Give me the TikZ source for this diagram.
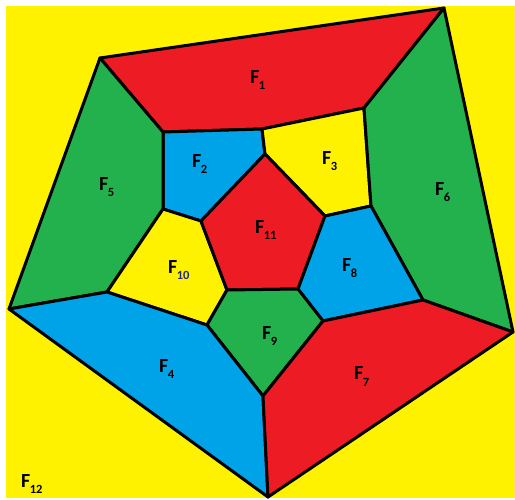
\documentclass[tikz,border=0pt]{standalone}
\usepackage{fontspec}
\setmainfont{Carlito}
\definecolor{pred}{HTML}{ED1C24}
\definecolor{pgreen}{HTML}{22B14C}
\definecolor{pblue}{HTML}{00A2E8}
\definecolor{pyellow}{HTML}{FFF200}
\definecolor{subnavy}{HTML}{1F2A8A}
\newcommand\flab[2][black]{F\kern-0.5pt\raisebox{-6pt}{\fontsize{12.5}{12.5}\selectfont\color{#1}#2}}
\begin{document}
\begin{tikzpicture}[x=1pt,y=-1pt,
  face/.style={draw=black,line width=3pt,line join=round},
  lab/.style={anchor=base west,inner sep=0pt,font=\fontsize{20}{20}\selectfont\bfseries}]
\useasboundingbox (0,0) rectangle (515,500);
\fill[white] (0,0) rectangle (515,500);
\fill[pyellow] (6,6) rectangle (515,498);
% outer vertices
\coordinate (A) at (100,58);
\coordinate (B) at (444,8);
\coordinate (C) at (513,332);
\coordinate (D) at (268,497);
\coordinate (E) at (9,309);
% middle ring
\coordinate (P1) at (163,132);
\coordinate (T) at (262,129);
\coordinate (P2) at (364,108);
\coordinate (Q6) at (371,206);
\coordinate (R6) at (423,300);
\coordinate (R7) at (323,321);
\coordinate (S) at (263,396);
\coordinate (R4) at (207,325);
\coordinate (Q4) at (107,292);
\coordinate (Q5) at (163,209);
% inner pentagon
\coordinate (K1) at (265,154);
\coordinate (K2) at (325,216);
\coordinate (K3) at (298,289);
\coordinate (K4) at (227,290);
\coordinate (K5) at (201,221);
% faces
\filldraw[face,fill=pred] (A) -- (B) -- (P2) -- (T) -- (P1) -- cycle;
\filldraw[face,fill=pblue] (P1) -- (T) -- (K1) -- (K5) -- (Q5) -- cycle;
\filldraw[face,fill=pyellow] (T) -- (P2) -- (Q6) -- (K2) -- (K1) -- cycle;
\filldraw[face,fill=pgreen] (A) -- (P1) -- (Q5) -- (Q4) -- (E) -- cycle;
\filldraw[face,fill=pgreen] (B) -- (C) -- (R6) -- (Q6) -- (P2) -- cycle;
\filldraw[face,fill=pyellow] (Q5) -- (K5) -- (K4) -- (R4) -- (Q4) -- cycle;
\filldraw[face,fill=pred] (K1) -- (K2) -- (K3) -- (K4) -- (K5) -- cycle;
\filldraw[face,fill=pblue] (K2) -- (Q6) -- (R6) -- (R7) -- (K3) -- cycle;
\filldraw[face,fill=pgreen] (K4) -- (K3) -- (R7) -- (S) -- (R4) -- cycle;
\filldraw[face,fill=pblue] (E) -- (Q4) -- (R4) -- (S) -- (D) -- cycle;
\filldraw[face,fill=pred] (D) -- (S) -- (R7) -- (R6) -- (C) -- cycle;
% labels
\node[lab] (l1) at (250,84) {\flab{1}};
\node[lab] (l2) at (192,168) {\flab{2}};
\node[lab] (l3) at (322,165) {\flab{3}};
\node[lab] (l4) at (159,373) {\flab{4}};
\node[lab] (l5) at (99,191) {\flab{5}};
\node[lab] (l6) at (435,196) {\flab{6}};
\node[lab] (l7) at (354,380) {\flab{7}};
\node[lab] (l8) at (342,272) {\flab{8}};
\node[lab] (l9) at (262,340) {\flab{9}};
\node[lab] (l10) at (168,274) {\flab[subnavy]{10}};
\node[lab] (l11) at (255,234) {\flab{11}};
\node[lab] (l12) at (21,487) {\flab{12}};
\end{tikzpicture}
\end{document}
